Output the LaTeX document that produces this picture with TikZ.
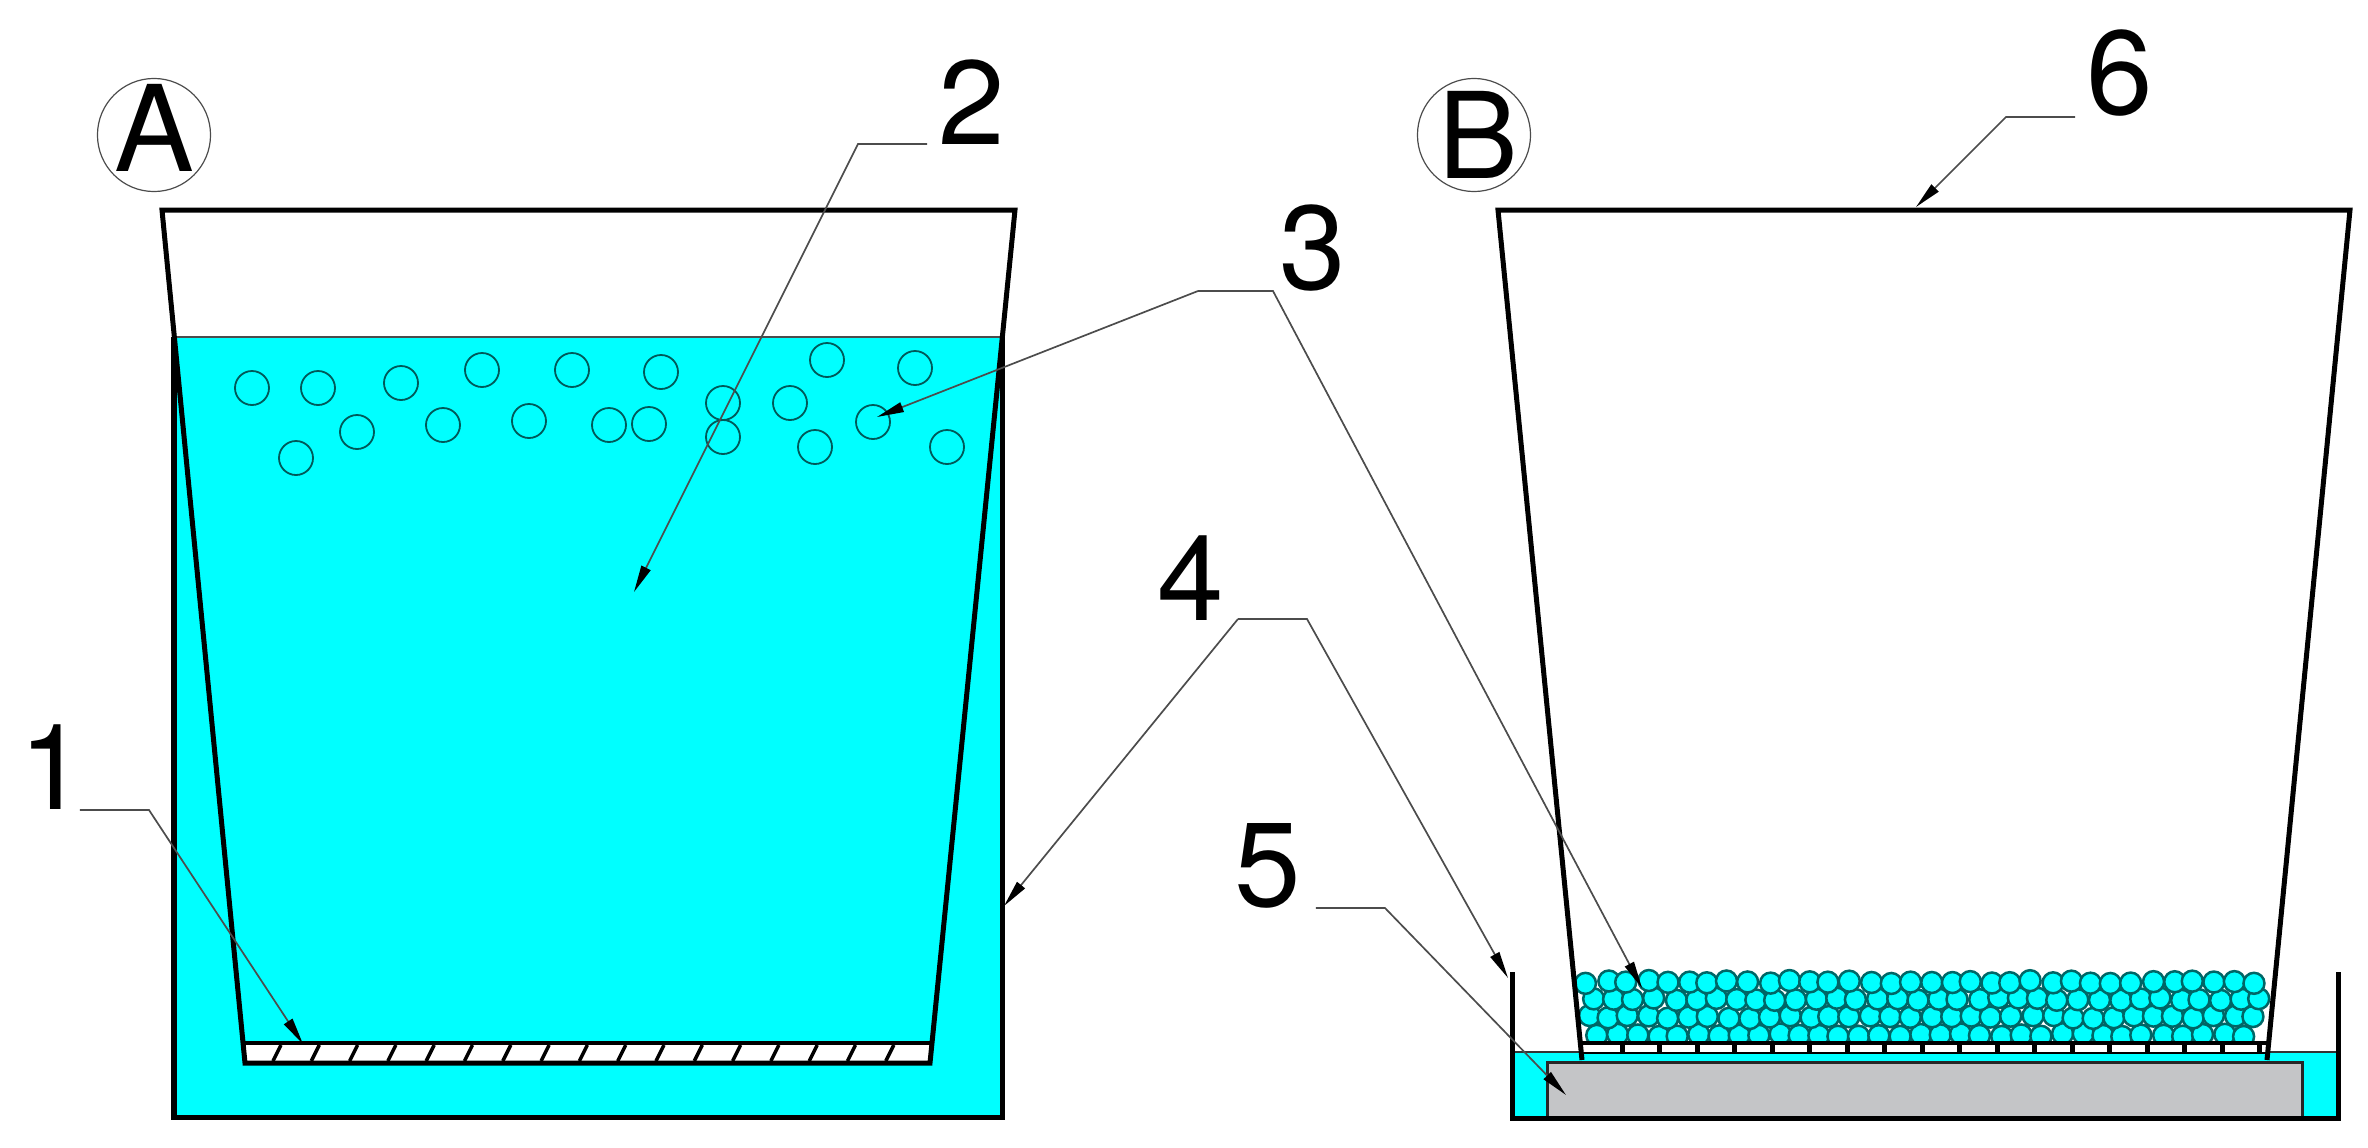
\documentclass[tikz,border=0pt]{standalone}
\usepackage{fontspec}
\setmainfont{TeX Gyre Heros}
\usetikzlibrary{arrows.meta}
\definecolor{waterblue}{RGB}{0,255,255}
\definecolor{blockgray}{RGB}{196,197,199}

\begin{document}
\begin{tikzpicture}[
    x=0.01cm, y=-0.01cm,
    >={Stealth[length=0.27cm, width=0.1cm, inset=0pt, black]},
    cupline/.style={line width=0.05cm, black, line join=miter},
    vessel/.style={line width=0.05cm, black},
    surface/.style={line width=0.025cm, black!70},
    leader/.style={line width=0.017cm, black!70},
    bubble/.style={line width=0.018cm, black!65!waterblue},
    bead/.style={line width=0.025cm, draw=black!60!waterblue, fill=waterblue},
    numlabel/.style={inner sep=0pt, font=\fontsize{34}{34}\selectfont},
    panelring/.style={circle, draw=black!70, line width=0.012cm, minimum size=1.13cm, inner sep=0pt}
]
\useasboundingbox (0,0) rectangle (2368,1148);

% Left: water in the outer vessel
\fill[waterblue] (174,337) rectangle (1002,1117);
\draw[surface] (174,337) -- (1002,337);
\draw[vessel] (174,337) -- (174,1117) -- (1002,1117) -- (1002,337);

% Left: filter at the cup bottom
\fill[white] (245,1043) rectangle (930,1063);
\foreach \i in {0,...,16} {
    \draw[line width=0.035cm] ({273+38.3*\i},1061) -- ({281+38.3*\i},1045);
}
\draw[line width=0.035cm, black] (245,1043) -- (930,1043);

% Left: cup
\draw[cupline] (245,1063) -- (162,210) -- (1015,210) -- (930,1063) -- cycle;

% Left: floating bubbles
\foreach \px/\py in {252/388,318/388,401/383,482/370,572/370,443/425,529/421,609/425,
    357/432,296/458,661/372,649/424,723/403,723/437,827/360,915/368,790/403,873/422,
    815/447,947/447} {
    \draw[bubble] (\px,\py) circle [radius=17];
}

% Right: water and block in the tray
\fill[waterblue] (1512,1052) rectangle (2338,1118);
\draw[line width=0.015cm, black!80] (1512,1052) -- (2338,1052);
\draw[line width=0.03cm, draw=black!85, fill=blockgray] (1547,1118) -- (1547,1062) -- (2302,1062) -- (2302,1118);
\draw[vessel] (1512,972) -- (1512,1118) -- (2338,1118) -- (2338,972);

% Right: packed beads
\pgfmathsetseed{7}
\foreach \rowy/\startx/\num in {1035/1597/32,1017/1588/33,999/1594/33,982/1587/33} {
    \foreach \i in {0,...,\num} {
        \pgfmathsetmacro{\bx}{\startx+20.2*\i+2*rand}
        \pgfmathsetmacro{\by}{\rowy+1.5*rand}
        \draw[bead] (\bx,\by) circle [radius=10.5];
    }
}

% Right: filter under the beads
\fill[white] (1582,1044) rectangle (2267,1052);
\foreach \i in {0,...,17} {
    \draw[line width=0.05cm] ({1622+37.5*\i},1044) -- ({1622+37.5*\i},1052);
}
\draw[line width=0.035cm, black] (1582,1043) -- (2267,1043);
\draw[line width=0.025cm, black] (1582,1053) -- (2267,1053);

% Right: cup
\draw[cupline] (1582,1060) -- (1498,210) -- (2350,210) -- (2267,1060);

% Panel marks
\node[panelring] (ringa) at (154,135) {};
\node[numlabel] (marka) at (154,128) {A};
\node[panelring] (ringb) at (1474,135) {};
\node[numlabel] (markb) at (1478,135) {B};

% Number labels
\node[numlabel] (num1) at (53,767) {1};
\node[numlabel] (num2) at (972,102) {2};
\node[numlabel] (num3) at (1313,248) {3};
\node[numlabel] (num4) at (1191,578) {4};
\node[numlabel] (num5) at (1268,866) {5};
\node[numlabel] (num6) at (2120,73) {6};

% Leader bends and tips
\coordinate (bend1) at (149,810);
\coordinate (tip1) at (303,1044);
\coordinate (bend2) at (858,144);
\coordinate (tip2) at (634,592);
\coordinate (bend3a) at (1198,291);
\coordinate (bend3b) at (1273,291);
\coordinate (tip3a) at (877,417);
\coordinate (tip3b) at (1642,988);
\coordinate (bend4a) at (1238,619);
\coordinate (bend4b) at (1307,619);
\coordinate (tip4a) at (1004,906);
\coordinate (tip4b) at (1508,978);
\coordinate (bend5) at (1385,908);
\coordinate (tip5) at (1566,1095);
\coordinate (bend6) at (2006,117);
\coordinate (tip6) at (1916,207);

% Leaders
\draw[leader, ->, shorten <=-0.07cm] (num1.south east |- bend1) -- (bend1) -- (tip1);
\draw[leader, ->, shorten <=0.11cm] (num2.south west |- bend2) -- (bend2) -- (tip2);
\draw[leader, ->] (bend3a) -- (tip3a);
\draw[leader, ->] (bend3a) -- (bend3b) -- (tip3b);
\draw[leader, ->] (bend4a) -- (tip4a);
\draw[leader, ->] (bend4a) -- (bend4b) -- (tip4b);
\draw[leader, ->, shorten <=0.14cm] (num5.south east |- bend5) -- (bend5) -- (tip5);
\draw[leader, ->, shorten <=0.11cm] (num6.south west |- bend6) -- (bend6) -- (tip6);

\end{tikzpicture}
\end{document}
